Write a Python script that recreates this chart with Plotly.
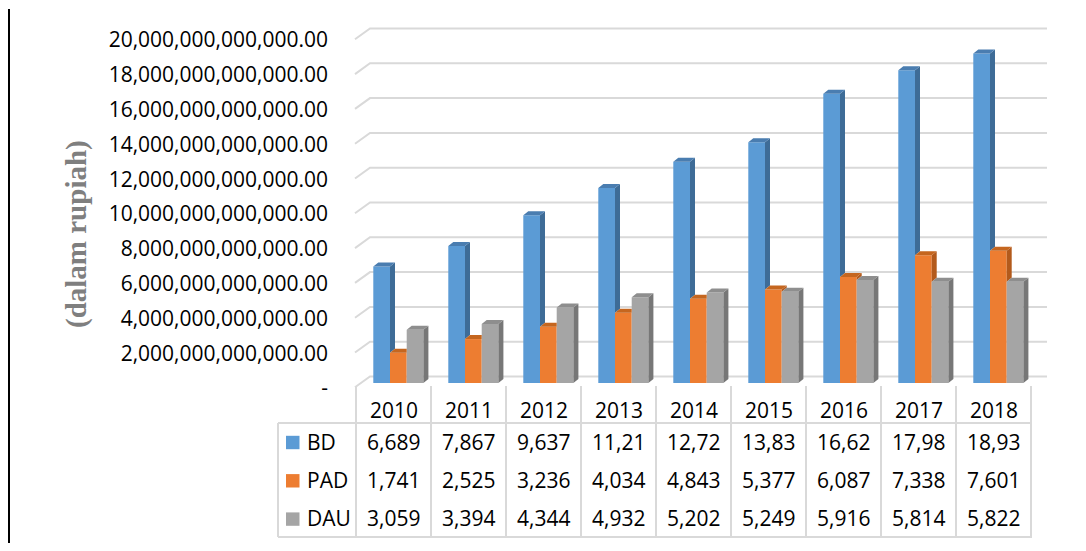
import plotly.graph_objects as go

# ---------------- data ----------------
years = ["2010", "2011", "2012", "2013", "2014", "2015", "2016", "2017", "2018"]
series_names = ["BD", "PAD", "DAU"]
bd = [6.689e12, 7.867e12, 9.637e12, 11.21e12, 12.72e12, 13.83e12, 16.62e12, 17.98e12, 18.93e12]
pad = [1.741e12, 2.525e12, 3.236e12, 4.034e12, 4.843e12, 5.377e12, 6.087e12, 7.338e12, 7.601e12]
dau = [3.059e12, 3.394e12, 4.344e12, 4.932e12, 5.202e12, 5.249e12, 5.916e12, 5.814e12, 5.822e12]
ytick_vals = [0, 2e12, 4e12, 6e12, 8e12, 10e12, 12e12, 14e12, 16e12, 18e12, 20e12]
ytick_text = ["-", "2,000,000,000,000.00", "4,000,000,000,000.00", "6,000,000,000,000.00",
              "8,000,000,000,000.00", "10,000,000,000,000.00", "12,000,000,000,000.00",
              "14,000,000,000,000.00", "16,000,000,000,000.00", "18,000,000,000,000.00",
              "20,000,000,000,000.00"]
y_title = "(dalam rupiah)"

# ---------------- styles ----------------
front_colors = ["#5B9BD5", "#ED7D31", "#A5A5A5"]
side_colors = ["#3E6C97", "#B35A1C", "#777777"]
top_colors = ["#4A7DB0", "#C5661F", "#8E8E8E"]
GRID = "#D9D9D9"
FONT = "Open Sans"

# ---------------- geometry (page-pixel helpers) ----------------
PAGE_OFF = 8  # default body margin of the html page
W, H = 1086 - 2 * PAGE_OFF, 551 - 2 * PAGE_OFF
PX_PER_COL = 75.0
COL0_PX = 393.5
ZERO_PY = 383.0
PX_PER_T = 17.4
XL = -(COL0_PX - PAGE_OFF) / PX_PER_COL
XR = XL + W / PX_PER_COL
YT = (ZERO_PY - PAGE_OFF) / PX_PER_T * 1e12
YB = YT - H / PX_PER_T * 1e12


def X(px):
    return XL + (px - PAGE_OFF) / PX_PER_COL


def Y(py):
    return (ZERO_PY - py) / PX_PER_T * 1e12


def dpx(n):
    return n / PX_PER_COL


def dpy(n):
    return n / PX_PER_T * 1e12


BW = dpx(16.7)
OFF0 = dpx(373.3 - COL0_PX)
offsets = [OFF0, OFF0 + BW, OFF0 + 2 * BW]
DX = dpx(5)
DY = dpy(4)

series_vals = [bd, pad, dau]
xs = list(range(len(years)))

fig = go.Figure()

# front faces (bars)
for k, (name, vals) in enumerate(zip(series_names, series_vals)):
    fig.add_trace(go.Bar(
        x=xs, y=vals, base=0, width=BW, offset=offsets[k], name=name,
        marker=dict(color=front_colors[k], line=dict(width=0)),
        hoverinfo="skip", showlegend=False))

# side and top faces (3D look)
for k, vals in enumerate(series_vals):
    nxt = series_vals[k + 1] if k < 2 else [0] * len(vals)
    sx, sy, tx, ty = [], [], [], []
    for i, v in enumerate(vals):
        xl = i + offsets[k]
        xr = xl + BW
        nv = nxt[i]
        if v > nv:
            sx += [xr, xr + DX, xr + DX, xr, None]
            sy += [nv, nv + DY, v + DY, v, None]
            tx += [xl, xr, xr + DX, xl + DX, None]
            ty += [v, v, v + DY, v + DY, None]
        else:
            tx += [xl, xr, xr, xl + DX, None]
            ty += [v, v, v + DY, v + DY, None]
    fig.add_trace(go.Scatter(x=sx, y=sy, mode="lines", fill="toself",
                             fillcolor=side_colors[k], line=dict(width=0),
                             hoverinfo="skip", showlegend=False))
    fig.add_trace(go.Scatter(x=tx, y=ty, mode="lines", fill="toself",
                             fillcolor=top_colors[k], line=dict(width=0),
                             hoverinfo="skip", showlegend=False))

shapes = []
# gridlines (back wall + side diagonal)
for t in ytick_vals:
    yb = t + dpy(6.5)
    yf = t - dpy(4.3)
    shapes.append(dict(type="path", xref="x", yref="y", layer="below",
                       path=f"M {X(355)} {yf} L {X(370)} {yb} L {X(1047)} {yb}",
                       line=dict(color=GRID, width=2)))

# data table lines
for py in (423, 537):
    shapes.append(dict(type="line", xref="x", yref="y", layer="below",
                       x0=X(278), x1=X(1032), y0=Y(py), y1=Y(py),
                       line=dict(color=GRID, width=2)))
shapes.append(dict(type="line", xref="x", yref="y", layer="below",
                   x0=X(278), x1=X(278), y0=Y(423), y1=Y(537),
                   line=dict(color=GRID, width=2)))
for j in range(len(years) + 1):
    xv = j - 0.5
    shapes.append(dict(type="line", xref="x", yref="y", layer="below",
                       x0=xv, x1=xv, y0=Y(386), y1=Y(537),
                       line=dict(color=GRID, width=2)))

annotations = []
row_py = [441.7, 480, 518.3]
for k, name in enumerate(series_names):
    cy = row_py[k] + 0.8
    shapes.append(dict(type="rect", xref="x", yref="y", layer="above",
                       x0=X(286), x1=X(299.5), y0=Y(cy - 6.7), y1=Y(cy + 6.7),
                       fillcolor=front_colors[k], line=dict(width=0)))
    annotations.append(dict(x=X(305), y=Y(row_py[k]), xref="x", yref="y",
                            text=name, showarrow=False, xanchor="left", yanchor="middle",
                            font=dict(family=FONT, size=21, color="#000000")))
    for i, v in enumerate(series_vals[k]):
        annotations.append(dict(x=i, y=Y(row_py[k]), xref="x", yref="y",
                                text=f"{v:,.0f}"[:5], showarrow=False,
                                xanchor="center", yanchor="middle",
                                font=dict(family=FONT, size=21, color="#000000")))
for i, yr in enumerate(years):
    annotations.append(dict(x=i, y=Y(409.5), xref="x", yref="y", text=yr,
                            showarrow=False, xanchor="center", yanchor="middle",
                            font=dict(family=FONT, size=21, color="#000000")))

# y axis title
annotations.append(dict(x=X(76), y=Y(234), xref="x", yref="y", text=f"<b>{y_title}</b>",
                        textangle=-90, showarrow=False, xanchor="center", yanchor="middle",
                        font=dict(family="Liberation Serif", size=29, color="#7F7F7F")))

# page border line on the left edge
shapes.append(dict(type="line", xref="x", yref="y", layer="above",
                   x0=X(9), x1=X(9), y0=Y(9), y1=Y(551),
                   line=dict(color="#000000", width=2)))

fig.update_layout(
    width=W, height=H,
    margin=dict(l=0, r=0, t=0, b=0),
    paper_bgcolor="white", plot_bgcolor="white",
    barmode="overlay",
    showlegend=False,
    shapes=shapes,
    annotations=annotations,
    xaxis=dict(range=[XL, XR], visible=False, fixedrange=True),
    yaxis=dict(range=[YB, YT], anchor="free", position=(328 - PAGE_OFF) / W, side="left",
               tickvals=ytick_vals, ticktext=ytick_text, ticks="",
               showgrid=False, zeroline=False, showline=False,
               ticklabelshift=5, fixedrange=True,
               tickfont=dict(family=FONT, size=21, color="#000000")),
)

fig.write_html("out.html")
